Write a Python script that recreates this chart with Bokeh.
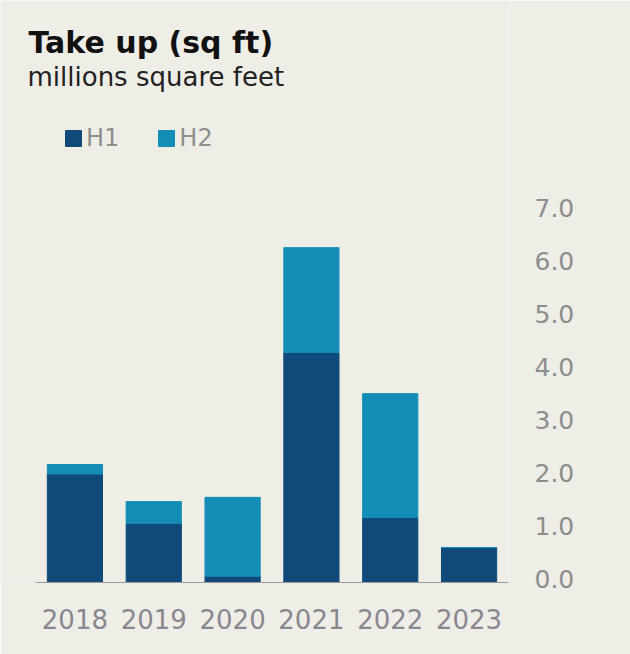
from bokeh.plotting import figure
from bokeh.models import ColumnDataSource, Range1d, FixedTicker, PrintfTickFormatter, Label, LinearAxis
from bokeh.embed import file_html
from bokeh.resources import INLINE

years = ["2018", "2019", "2020", "2021", "2022", "2023"]
h1 = [2.05, 1.12, 0.12, 4.35, 1.23, 0.66]
h2 = [0.18, 0.41, 1.49, 1.98, 2.34, 0.0]
y_ticks = [0, 1, 2, 3, 4, 5, 6, 7]
series = ["H1", "H2"]
colors = ["#0f4a7b", "#148db6"]

BG = "#efeee6"
FONT = "DejaVu Sans"

xpos = list(range(len(years)))
src = ColumnDataSource(dict(x=xpos, year=years, H1=h1, H2=h2))

PX_PER_UNIT = 52.9
FRAME_H = 582
p = figure(width=630, height=654,
           x_range=Range1d(-0.944, len(years) - 0.5),
           y_range=Range1d(0, FRAME_H / PX_PER_UNIT),
           output_backend="svg", toolbar_location=None,
           min_border_left=0, min_border_right=122, min_border_top=0, min_border_bottom=654 - FRAME_H,
           background_fill_color=BG, border_fill_color=BG,
           outline_line_color=None)
# axis labels sit a few pixels above their bar levels in the original
shift = 4 / PX_PER_UNIT
p.extra_y_ranges = {"lab": Range1d(-shift, FRAME_H / PX_PER_UNIT - shift)}

p.vbar_stack(series, x="x", width=0.7, color=colors, source=src, legend_label=series)

p.xgrid.visible = False
p.ygrid.visible = False
p.yaxis.visible = False

xa = p.xaxis[0]
xa.ticker = FixedTicker(ticks=xpos)
xa.major_label_overrides = {i: y for i, y in zip(xpos, years)}
xa.bounds = (-0.5, len(years) - 0.5)
xa.axis_line_color = "#9a9a9a"
xa.axis_line_width = 1
xa.major_tick_line_color = None
xa.minor_tick_line_color = None
xa.major_label_text_font = FONT
xa.major_label_text_font_size = "26px"
xa.major_label_text_color = "#8a8790"
xa.major_label_standoff = 20

ya = LinearAxis(y_range_name="lab", ticker=FixedTicker(ticks=y_ticks),
                formatter=PrintfTickFormatter(format="%.1f"))
ya.axis_line_color = None
ya.major_tick_line_color = None
ya.minor_tick_line_color = None
ya.major_tick_out = 0
ya.major_tick_in = 0
ya.major_label_text_font = FONT
ya.major_label_text_font_size = "25px"
ya.major_label_text_color = "#8d8d8d"
ya.major_label_standoff = 26
p.add_layout(ya, "right")

p.add_layout(Label(x=28, y=FRAME_H - 42, x_units="screen", y_units="screen", text="Take up (sq ft)",
                   text_font=FONT, text_font_style="bold", text_font_size="30px",
                   text_color="#111111", text_baseline="alphabetic"))
p.add_layout(Label(x=27, y=FRAME_H - 76, x_units="screen", y_units="screen", text="millions square feet",
                   text_font=FONT, text_font_size="26px",
                   text_color="#222222", text_baseline="alphabetic"))

lg = p.legend[0]
lg.location = (63, FRAME_H - 152)
lg.orientation = "horizontal"
lg.background_fill_alpha = 0
lg.border_line_alpha = 0
lg.padding = 0
lg.margin = 0
lg.glyph_width = 20
lg.glyph_height = 20
lg.label_standoff = 3
lg.spacing = 37
lg.label_text_font = FONT
lg.label_text_font_size = "24px"
lg.label_text_color = "#8e8e8e"

open("out.html", "w").write(file_html(p, INLINE))
